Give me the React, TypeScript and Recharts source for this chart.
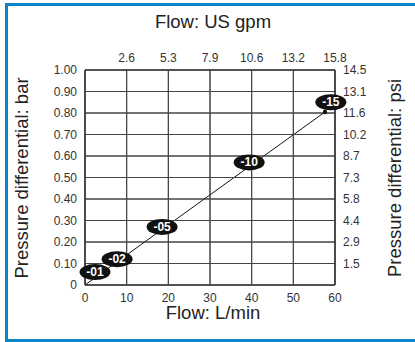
import { ComposedChart, Line, Scatter, XAxis, YAxis, CartesianGrid } from 'recharts';

// flow in L/min, pressure in bar
const lineFlow = [0, 57.6];
const lineBar = [0, 0.805];

const tags = ['-01', '-02', '-05', '-10', '-15'];
const tagFlow = [2.4, 7.7, 18.5, 39.4, 59];
const tagBar = [0.06, 0.12, 0.27, 0.57, 0.85];

const flowTicks = [0, 10, 20, 30, 40, 50, 60];
const gpmTicks = [10, 20, 30, 40, 50, 60];
const gpmLabels = ['2.6', '5.3', '7.9', '10.6', '13.2', '15.8'];
const barTicks = [0, 0.1, 0.2, 0.3, 0.4, 0.5, 0.6, 0.7, 0.8, 0.9, 1.0];
const barLabels = ['0', '0.10', '0.20', '0.30', '0.40', '0.50', '0.60', '0.70', '0.80', '0.90', '1.00'];
const psiTicks = [0.1, 0.2, 0.3, 0.4, 0.5, 0.6, 0.7, 0.8, 0.9, 1.0];
const psiLabels = ['1.5', '2.9', '4.4', '5.8', '7.3', '8.7', '10.2', '11.6', '13.1', '14.5'];

const lineData = lineFlow.map((f, i) => ({ flow: f, bar: lineBar[i] }));
const tagData = tags.map((t, i) => ({ flow: tagFlow[i], bar: tagBar[i], tag: t }));

const font = 'Liberation Sans, Arial, Helvetica, sans-serif';
const tickStyle = { fontSize: 12, fill: '#333', fontFamily: font };
const gridColor = '#444';

// plot box is 250 x 215 px; tick lines run across it to form the grid
const plotW = 250;
const plotH = 215;

const titleStyle: any = {
  position: 'absolute',
  height: 22,
  lineHeight: '22px',
  textAlign: 'center',
  fontSize: 18.5,
  color: '#222',
  fontFamily: font,
  whiteSpace: 'nowrap',
};

const TagShape = (props: any) => {
  const { cx, cy, payload } = props;
  return (
    <g>
      <ellipse cx={cx} cy={cy} rx={15.5} ry={8} fill="#111" />
      <text x={cx} y={cy} textAnchor="middle" dominantBaseline="central" fill="#fff" fontSize={12} fontWeight="bold" fontFamily={font}>
        {payload.tag}
      </text>
    </g>
  );
};

const EndDot = (props: any) => {
  const { cx, cy, index } = props;
  if (index !== lineData.length - 1) return <g key={index} />;
  return <circle key={index} cx={cx} cy={cy} r={2.2} fill="#111" />;
};

export default function App() {
  return (
    <div style={{ position: 'absolute', left: 0, top: 0, width: 415, height: 342, overflow: 'hidden', background: '#fff' }}>
      <div style={{ position: 'absolute', left: 5, top: 3, width: 430, height: 339, border: '3px solid #0a84c6', boxSizing: 'border-box' }} />
      <div style={{ position: 'absolute', left: 0, top: 0 }}>
        <ComposedChart width={415} height={342} data={lineData} margin={{ top: 0, right: 0, bottom: 0, left: 0 }}>
          <CartesianGrid stroke={gridColor} strokeWidth={1} />
          <XAxis
            dataKey="flow"
            type="number"
            domain={[0, 60]}
            ticks={flowTicks}
            orientation="bottom"
            height={57}
            tickSize={-plotH}
            tickMargin={plotH + 8}
            tickLine={{ stroke: gridColor }}
            axisLine={{ stroke: '#222' }}
            tick={tickStyle}
            interval={0}
          />
          <XAxis
            xAxisId="top"
            dataKey="flow"
            type="number"
            domain={[0, 60]}
            ticks={gpmTicks}
            tickFormatter={(v: number) => gpmLabels[gpmTicks.indexOf(v)] ?? ''}
            orientation="top"
            height={70}
            tickLine={false}
            axisLine={{ stroke: '#222' }}
            tick={tickStyle}
            interval={0}
          />
          <YAxis
            type="number"
            domain={[0, 1]}
            ticks={barTicks}
            tickFormatter={(v: number) => barLabels[barTicks.indexOf(v)] ?? ''}
            orientation="left"
            width={85}
            tickSize={-plotW}
            tickMargin={plotW + 8}
            tickLine={{ stroke: gridColor }}
            axisLine={{ stroke: '#222' }}
            tick={tickStyle}
            interval={0}
          />
          <YAxis
            yAxisId="right"
            type="number"
            domain={[0, 1]}
            ticks={psiTicks}
            tickFormatter={(v: number) => psiLabels[psiTicks.indexOf(v)] ?? ''}
            orientation="right"
            width={80}
            tickLine={false}
            axisLine={{ stroke: '#222' }}
            tick={tickStyle}
            interval={0}
          />
          {/* invisible series so the top and right axes get ticks */}
          <Line
            xAxisId="top"
            yAxisId="right"
            dataKey="bar"
            stroke="none"
            dot={false}
            activeDot={false}
            isAnimationActive={false}
          />
          <Line
            dataKey="bar"
            type="linear"
            stroke="#111"
            strokeWidth={1}
            dot={EndDot}
            activeDot={false}
            isAnimationActive={false}
          />
          <Scatter
            data={tagData}
            dataKey="bar"
            shape={TagShape}
            isAnimationActive={false}
          />
        </ComposedChart>
      </div>
      <div style={{ ...titleStyle, left: 88, top: 11, width: 250 }}>Flow: US gpm</div>
      <div style={{ ...titleStyle, left: 88, top: 302, width: 250 }}>Flow: L/min</div>
      <div style={{ ...titleStyle, left: -88, top: 167, width: 220, transform: 'rotate(-90deg)' }}>Pressure differential: bar</div>
      <div style={{ ...titleStyle, left: 285, top: 167, width: 220, transform: 'rotate(-90deg)' }}>Pressure differential: psi</div>
    </div>
  );
}
